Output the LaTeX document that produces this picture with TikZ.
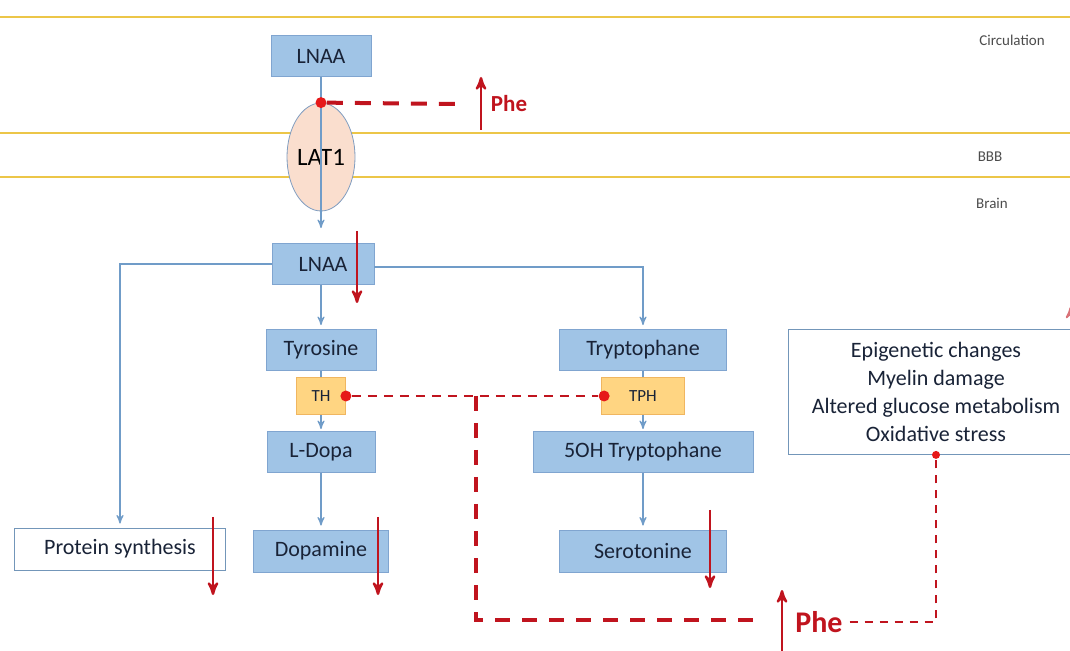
\documentclass[tikz,border=0pt]{standalone}
\usepackage{fontspec}
\setmainfont{Carlito}
\usetikzlibrary{arrows,shapes.geometric}
\definecolor{boxblue}{RGB}{160,196,230}
\definecolor{boxedge}{RGB}{128,165,208}
\definecolor{flowblue}{RGB}{112,156,200}
\definecolor{enzfill}{RGB}{255,213,130}
\definecolor{enzedge}{RGB}{240,182,96}
\definecolor{phered}{RGB}{192,20,30}
\definecolor{dotred}{RGB}{230,25,25}
\definecolor{membrane}{RGB}{236,198,72}
\definecolor{latfill}{RGB}{250,222,206}
\definecolor{textdark}{RGB}{25,35,55}

\begin{document}
\begin{tikzpicture}[x=0.5pt,y=-0.5pt,>=stealth',
    main node/.style={rectangle,fill=boxblue,draw=boxedge,text=textdark,
        font=\fontsize{11}{13}\selectfont,inner sep=0pt,minimum height=20.5pt},
    enzyme node/.style={rectangle,fill=enzfill,draw=enzedge,text=textdark,
        font=\fontsize{8.5}{10}\selectfont,inner sep=0pt,minimum height=18.5pt},
    effect node/.style={rectangle,fill=white,draw=flowblue!80!gray,text=textdark,
        font=\fontsize{11}{14}\selectfont,align=center,inner sep=0pt},
    layer node/.style={text=black!70,font=\fontsize{7.5}{9}\selectfont},
    phe node/.style={text=phered,font=\bfseries},
    flow/.style={->,draw=flowblue,line width=0.6pt,shorten >=2pt},
    link/.style={draw=flowblue,line width=0.6pt},
    level/.style={->,draw=phered,line width=1.2pt},
    block thick/.style={draw=phered,line width=2pt,dash pattern=on 8pt off 6pt},
    block thin/.style={draw=phered,line width=1pt,dash pattern=on 4.5pt off 3.5pt},
    dot/.style={circle,fill=dotred,inner sep=0pt,minimum size=5.5pt}]

  \clip (0,0) rectangle (1070,651);

  % membranes
  \draw[membrane,line width=1.2pt] (0,17) -- (1070,17);
  \draw[membrane,line width=1.2pt] (0,133) -- (1070,133);
  \draw[membrane,line width=1.2pt] (0,177) -- (1070,177);

  \node[layer node] (circ) at (1012,40) {Circulation};
  \node[layer node] (bbb) at (990,157) {BBB};
  \node[layer node] (brain) at (992,203) {Brain};

  % transport
  \node[main node,minimum width=50pt] (LNAA) at (321,56) {LNAA};
  \node[ellipse,fill=latfill,draw=boxedge!80!gray,minimum width=34pt,
        minimum height=54pt,inner sep=0pt,font=\fontsize{12.5}{14}\selectfont]
        (LAT1) at (321,157) {LAT1};
  \node[main node,minimum width=51pt] (LNAA2) at (323,264) {LNAA};
  \draw[flow,shorten >=7.5pt] (LNAA.south) -- (LNAA.south |- LNAA2.north);

  % pathways
  \node[main node,minimum width=55pt] (tyr) at (321,350) {Tyrosine};
  \node[enzyme node,minimum width=24.5pt] (TH) at (321,396) {TH};
  \node[main node,minimum width=54pt] (dopa) at (321,452) {L-Dopa};
  \node[main node,minimum width=67.5pt,minimum height=21pt] (dopamine) at (321,551) {Dopamine};
  \node[main node,fill=white,draw=flowblue!80!gray,minimum width=105.5pt,
        minimum height=21pt] (protein) at (120,549) {Protein synthesis};

  \node[main node,minimum width=83.5pt] (trp) at (643,350) {Tryptophane};
  \node[enzyme node,minimum width=41.5pt] (TPH) at (643,396) {TPH};
  \node[main node,minimum width=110pt] (htp) at (643,452) {5OH Tryptophane};
  \node[main node,minimum width=83.5pt,minimum height=21pt] (sero) at (643,551) {Serotonine};

  \node[effect node,minimum width=148pt,minimum height=62.5pt] (effects) at (936,392)
        {Epigenetic changes\\Myelin damage\\Altered glucose metabolism\\Oxidative stress};

  \draw[flow] (tyr.north |- LNAA2.south) -- (tyr.north);
  \draw[link] (tyr.south) -- (TH.north);
  \draw[flow,shorten >=1pt] (TH.south) -- (dopa.north);
  \draw[flow] (dopa.south) -- (dopamine.north);
  \draw[flow] (LNAA2.west) -| (protein.north);
  \draw[flow] ([yshift=-1.5pt]LNAA2.east) -| (trp.north);
  \draw[link] (trp.south) -- (TPH.north);
  \draw[flow,shorten >=1pt] (TPH.south) -- (htp.north);
  \draw[flow] (htp.south) -- (sero.north);

  % phenylalanine
  \node[dot] (d1) at (LAT1.north) {};
  \coordinate (e1) at (455,104);
  \draw[block thick] (d1) -- (e1);
  \draw[level] (481,130) -- (481,77);
  \node[phe node,font=\bfseries\fontsize{11.5}{13}\selectfont] (phe1) at (509,104) {Phe};

  \node[dot] (d2) at (TH.east) {};
  \node[dot] (d3) at ([xshift=1.5pt]TPH.west) {};
  \draw[block thin] (d2) -- (d3);
  \coordinate (j1) at (476,396);
  \coordinate (j2) at (476,620);
  \coordinate (j3) at (760,620);
  \draw[block thick,dash pattern=on 7.5pt off 6pt] (j1) -- (j2) -- (j3);
  \draw[level] (782,651) -- (782,590);
  \node[phe node,font=\bfseries\fontsize{15}{17}\selectfont] (phe2) at (819,622) {Phe};
  \node[dot,minimum size=4pt] (d4) at (effects.south) {};
  \draw[block thin,line width=1.2pt,dash pattern=on 4pt off 3.5pt] (phe2.east) -| (d4);

  % level changes
  \draw[level] (357,231) -- (357,303);
  \draw[level] (213,517) -- (213,595);
  \draw[level] (378,517) -- (378,595);
  \draw[level] (710,510) -- (710,588);
  \draw[level,draw=phered!60,line width=1pt] (1070.5,480) -- (1070.5,307);
\end{tikzpicture}
\end{document}
